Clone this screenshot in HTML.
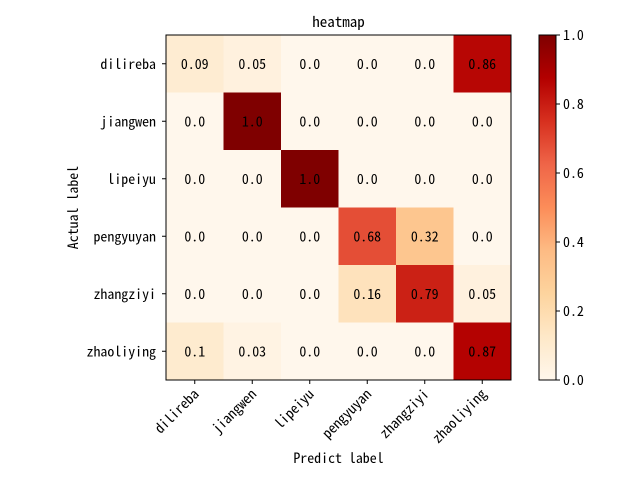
<!DOCTYPE html>
<html><head><meta charset="utf-8"><style>
body{margin:0;background:#fff}
svg text{font-family:"WenQuanYi Zen Hei Mono","Noto Sans Mono CJK SC","WenQuanYi Zen Hei","DejaVu Sans Mono",monospace;font-size:13.9px;fill:#000}
svg text.title{font-size:15px}
</style></head><body>
<svg id="c" width="640" height="480" xmlns="http://www.w3.org/2000/svg"></svg>
<script>
const labels=["dilireba","jiangwen","lipeiyu","pengyuyan","zhangziyi","zhaoliying"];
const row0=[0.09,0.05,0.0,0.0,0.0,0.86];
const row1=[0.0,1.0,0.0,0.0,0.0,0.0];
const row2=[0.0,0.0,1.0,0.0,0.0,0.0];
const row3=[0.0,0.0,0.0,0.68,0.32,0.0];
const row4=[0.0,0.0,0.0,0.16,0.79,0.05];
const row5=[0.1,0.03,0.0,0.0,0.0,0.87];
const matrix=[row0,row1,row2,row3,row4,row5];
const cbTicks=[0,0.2,0.4,0.6,0.8,1.0];
const stops=["#fff7ec","#fee8c8","#fdd49e","#fdbb84","#fc8d59","#ef6548","#d7301f","#b30000","#7f0000"];
function hex(h){return [1,3,5].map(i=>parseInt(h.substr(i,2),16));}
function cmap(v){v=Math.max(0,Math.min(1,v));const p=v*8,i=Math.min(7,Math.floor(p)),t=p-i;const a=hex(stops[i]),b=hex(stops[i+1]);return "rgb("+a.map((x,k)=>Math.round(x+(b[k]-x)*t)).join(",")+")";}
const L=166,T=35,W=345,H=345,n=labels.length,cw=W/n,ch=H/n;
const xS=j=>L+(j+0.5)*cw, yS=i=>T+(i+0.5)*ch;
const svg=document.getElementById('c');const NS="http://www.w3.org/2000/svg";
function mk(tag,attrs,txt){const e=document.createElementNS(NS,tag);for(const k in attrs)e.setAttribute(k,attrs[k]);if(txt!==undefined)e.textContent=txt;svg.appendChild(e);return e;}
let e=mk('text',{x:L+W/2,y:27,'text-anchor':'middle','class':'title'},'heatmap');

matrix.forEach((row,i)=>row.forEach((v,j)=>{
 let r=mk('rect',{x:L+j*cw,y:T+i*ch,width:cw+0.5,height:ch+0.5,fill:cmap(v)});
 
 let t=mk('text',{x:xS(j),y:yS(i)+5,'text-anchor':'middle'},String(v===0?'0.0':(v===1?'1.0':v)));
 
}));
e=mk('rect',{x:L,y:T,width:W,height:H,fill:'none',stroke:'#000','stroke-width':1});

labels.forEach((lb,i)=>{
 mk('line',{x1:L-4,x2:L,y1:yS(i),y2:yS(i),stroke:'#000'});
 let t=mk('text',{x:L-10,y:yS(i)+5,'text-anchor':'end'},lb);
 
 mk('line',{x1:xS(i),x2:xS(i),y1:T+H,y2:T+H+4,stroke:'#000'});
 let x=mk('text',{x:xS(i)+5,y:T+H+15,'text-anchor':'end',transform:'rotate(-45 '+(xS(i)+5)+' '+(T+H+15)+')'},lb);
 
});
e=mk('text',{x:L+W/2,y:463,'text-anchor':'middle'},'Predict label');

e=mk('text',{x:78,y:T+H/2,'text-anchor':'middle',transform:'rotate(-90 78 '+(T+H/2)+')'},'Actual label');

const cbX=539,cbW=17;
const defs=mk('defs',{});const g=document.createElementNS(NS,'linearGradient');g.setAttribute('id','gr');g.setAttribute('x1','0');g.setAttribute('y1','1');g.setAttribute('x2','0');g.setAttribute('y2','0');defs.appendChild(g);
stops.forEach((s,k)=>{const st=document.createElementNS(NS,'stop');st.setAttribute('offset',k/8);st.setAttribute('stop-color',s);g.appendChild(st);});
e=mk('rect',{x:cbX,y:T,width:cbW,height:H,fill:'url(#gr)',stroke:'#000','stroke-width':1});

const cbY=v=>T+H-v*H;
cbTicks.forEach(v=>{
 mk('line',{x1:cbX+cbW,x2:cbX+cbW+4,y1:cbY(v),y2:cbY(v),stroke:'#000'});
 let t=mk('text',{x:cbX+cbW+7,y:cbY(v)+5},v.toFixed(1));
 
});
</script>
</body></html>
